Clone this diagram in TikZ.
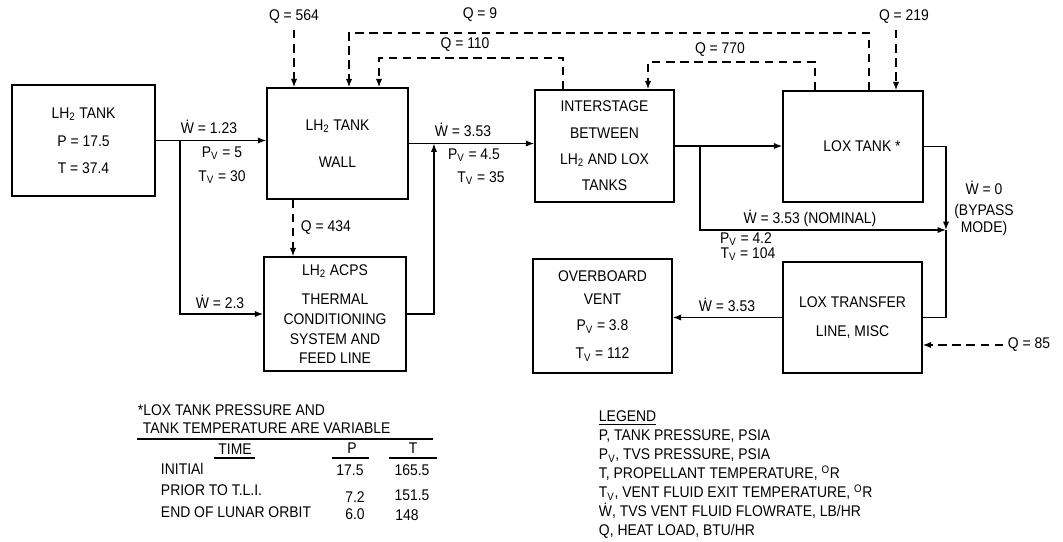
\documentclass[tikz,border=0pt]{standalone}
\usepackage{fontspec}
\setmainfont{Liberation Sans}[FakeStretch=0.9]
\usetikzlibrary{arrows.meta, positioning, calc}
\newcommand{\Wd}{Ẇ}

\begin{document}
\begin{tikzpicture}[
  x=0.025cm, y=-0.025cm,
  every node/.style={font=\fontsize{11}{12}\selectfont},
  box/.style={rectangle, draw, line width=1pt, align=center, inner sep=0pt},
  flow/.style={-{Latex[length=6pt,width=4.5pt]}, line width=1pt},
  pipe/.style={line width=1pt},
  heat/.style={-{Latex[length=6pt,width=4.5pt]}, line width=0.9pt, dash pattern=on 6pt off 4pt},
]
  \useasboundingbox (0,0) rectangle (1063,541);

  % boxes
  \node[box,minimum width=3.575cm,minimum height=2.775cm] (tank) at (83.5,140.5)
    {LH\textsubscript{2} TANK\\[8pt]P = 17.5\\[7pt]T = 37.4};
  \node[box,minimum width=3.525cm,minimum height=2.775cm] (wall) at (337.5,143.5)
    {LH\textsubscript{2} TANK\\[14pt]WALL};
  \node[box,minimum width=3.55cm,minimum height=2.85cm] (acps) at (335,314)
    {LH\textsubscript{2} ACPS\\[9pt]THERMAL\\[2pt]CONDITIONING\\[2pt]SYSTEM AND\\[2pt]FEED LINE};
  \node[box,minimum width=3.475cm,minimum height=2.8cm] (inter) at (604.5,146)
    {INTERSTAGE\\[6.7pt]BETWEEN\\[6.7pt]LH\textsubscript{2} AND LOX\\[6.7pt]TANKS};
  \node[box,minimum width=3.5cm,minimum height=2.775cm] (lox) at (853,146.5)
    {\hspace{0.45cm}LOX TANK *};
  \node[box,minimum width=3.475cm,minimum height=2.85cm] (vent) at (602.5,316)
    {OVERBOARD\\[4pt]VENT\\[7pt]P\textsubscript{V} = 3.8\\[8pt]T\textsubscript{V} = 112};
  \node[box,minimum width=3.475cm,minimum height=2.775cm] (xfer) at (852.5,317.5)
    {LOX TRANSFER\\[9pt]LINE, MISC};

  % vent flow
  \coordinate (b1) at (180,140.5);
  \coordinate (b2) at (434,143.5);
  \coordinate (b3) at (700,146);
  \coordinate (j1) at (946,230);
  \draw[flow] (tank.east) -- (tank.east -| wall.west);
  \draw[flow] (b1) |- (acps.west);
  \draw[flow] (wall.east) -- (wall.east -| inter.west);
  \draw[flow] (acps.east) -| (b2);
  \draw[flow] (inter.east) -- (inter.east -| lox.west);
  \draw[flow] (b3) |- (j1);
  \draw[flow] (lox.east) -| (j1);
  \draw[pipe] (j1) |- (xfer.east);
  \draw[flow] (xfer.west) -- (xfer.west -| vent.east);

  \node (w1) at (209,127) {\Wd{} = 1.23};
  \node (pv1) at (222,153) {P\textsubscript{V} = 5};
  \node (tv1) at (222,177) {T\textsubscript{V} = 30};
  \node (w2) at (220,302) {\Wd{} = 2.3};
  \node (w3) at (463,130) {\Wd{} = 3.53};
  \node (pv2) at (474,155) {P\textsubscript{V} = 4.5};
  \node (tv2) at (481,178) {T\textsubscript{V} = 35};
  \node (w4) at (810,218) {\Wd{} = 3.53 (NOMINAL)};
  \node (pv3) at (746,239) {P\textsubscript{V} = 4.2};
  \node (tv3) at (748,254) {T\textsubscript{V} = 104};
  \node[align=center] (w5) at (984,208) {\Wd{} = 0\\[3pt](BYPASS\\MODE)};
  \node (w6) at (727,305) {\Wd{} = 3.53};

  % heat loads
  \node (q564) at (294,17) {Q = 564};
  \node (q9) at (480,15) {Q = 9};
  \node (q110) at (465,45) {Q = 110};
  \node (q770) at (720,50) {Q = 770};
  \node (q219) at (904,17) {Q = 219};
  \node[anchor=west] (q434) at (296,228) {Q = 434};
  \node[anchor=west] (q85) at (1003,345) {Q = 85};
  \coordinate (q564s) at (294,30);
  \coordinate (q219s) at (896,30);
  \coordinate (q434s) at (293,0);
  \coordinate (q9a) at (869,33);
  \coordinate (q9b) at (349,33);
  \coordinate (q110a) at (563,58);
  \coordinate (q110b) at (379,58);
  \coordinate (q770a) at (815,62);
  \coordinate (q770b) at (648,62);
  \draw[heat] (q564s) -- (q564s |- wall.north);
  \draw[heat] (q219s) -- (q219s |- lox.north);
  \draw[heat] (wall.south -| q434s) -- (acps.north -| q434s);
  \draw[heat] (lox.north -| q9a) -- (q9a) -- (q9b) -- (q9b |- wall.north);
  \draw[heat] (inter.north -| q110a) -- (q110a) -- (q110b) -- (q110b |- wall.north);
  \draw[heat] (lox.north -| q770a) -- (q770a) -- (q770b) -- (q770b |- inter.north);
  \draw[heat] (q85.west) -- (q85.west -| xfer.east);

  % footnote
  \node[anchor=west] (note1) at (133,410) {*LOX TANK PRESSURE AND};
  \node[anchor=west] (note2) at (138,428) {TANK TEMPERATURE ARE VARIABLE};
  \draw[line width=0.9pt] (137,439) -- (433,439);
  \node (htime) at (235,449) {TIME};
  \node (hp) at (352,448) {P};
  \node (ht) at (413,448) {T};
  \draw[line width=0.9pt] (214,458) -- (255,458);
  \draw[line width=0.9pt] (332,458) -- (369,458);
  \draw[line width=0.9pt] (389,458) -- (437,458);
  \node[anchor=west] (r1) at (156,469) {INITIAl};
  \node[anchor=west] (r2) at (156,490) {PRIOR TO T.L.I.};
  \node[anchor=west] (r3) at (156,512) {END OF LUNAR ORBIT};
  \node (p1) at (350,470) {17.5};
  \node (p2) at (355,497) {7.2};
  \node (p3) at (355,514) {6.0};
  \node (t1) at (412,470) {165.5};
  \node (t2) at (412,495) {151.5};
  \node (t3) at (407,515) {148};

  % legend
  \node[anchor=north west, align=left, font=\fontsize{11}{13.5}\selectfont] (legend) at (594,406)
    {\underline{LEGEND}\\
     P, TANK PRESSURE, PSIA\\
     P\textsubscript{V}, TVS PRESSURE, PSIA\\
     T, PROPELLANT TEMPERATURE, \textsuperscript{O}R\\
     T\textsubscript{V}, VENT FLUID EXIT TEMPERATURE, \textsuperscript{O}R\\
     \Wd, TVS VENT FLUID FLOWRATE, LB/HR\\
     Q, HEAT LOAD, BTU/HR};
\end{tikzpicture}
\end{document}
